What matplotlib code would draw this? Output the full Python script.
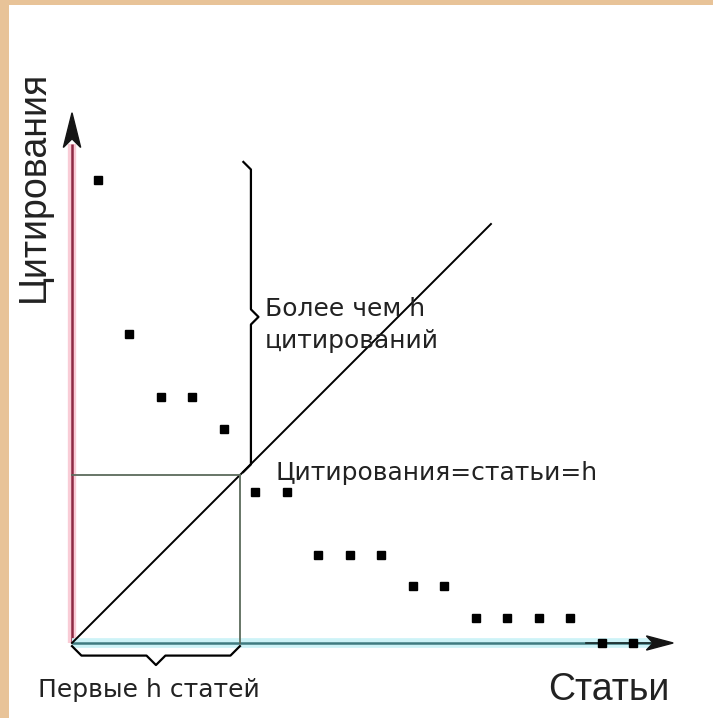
import matplotlib.pyplot as plt
import numpy as np

# статьи, отсортированные по числу цитирований
ranks = np.arange(1, 19)
citations = [14.7, 9.8, 7.8, 7.8, 6.8, 4.8, 4.8, 2.8, 2.8, 2.8,
             1.8, 1.8, 0.8, 0.8, 0.8, 0.8, 0.0, 0.0]
h_level = 5.33          # уровень h на диагонали
x0 = 0.175              # начало осей по x
y_top = 16.83           # конец оси цитирований
x_end = 19.26           # конец оси статей

fig = plt.figure(figsize=(7.13, 7.18), dpi=100, facecolor='#e8c398')
ax = fig.add_axes([0, 0, 1, 1])
ax.set_xlim(-2.111, 20.524)
ax.set_ylim(-2.381, 20.41)
ax.axis('off')

# белая подложка
ax.add_patch(plt.Rectangle((9 / 713, 0), 1, 1 - 5 / 718, transform=fig.transFigure,
                           facecolor='white', edgecolor='none', zorder=-10, clip_on=False))


def arrowhead(tip, direction, length, width):
    # наконечник с вогнутым основанием
    tip, d = np.array(tip), np.array(direction, dtype=float)
    n = np.array([-d[1], d[0]])
    back = tip - d * length
    pts = np.array([tip, back + n * width / 2, tip - d * length * 0.75, back - n * width / 2])
    ax.fill(pts[:, 0], pts[:, 1], color='#151515', zorder=6)


# оси
ax.plot([x0, x0], [0, y_top - 1], color='#f9ccd6', lw=6, solid_capstyle='butt')
ax.plot([x0, x0], [0, y_top - 1], color='#8e2a44', lw=1.8, solid_capstyle='butt')
ax.plot([x0, x_end - 0.6], [0, 0], color='#cdf3f7', lw=7, solid_capstyle='butt')
ax.plot([x0, x_end - 0.6], [0, 0], color='#3f7b80', lw=1.8, solid_capstyle='butt')
ax.plot([16.5, x_end - 0.6], [0, 0], color='#1a2a2a', lw=1.2)
arrowhead((x0, y_top), (0, 1), 1.1, 0.55)
arrowhead((x_end, 0), (1, 0), 0.85, 0.45)

# диагональ цитирования = статьи
diag = np.array([0, 13.3])
ax.plot(diag + x0, diag, color='black', lw=1.4)

# линии h
ax.plot([x0, x0 + h_level], [h_level, h_level], color='#5c6b5c', lw=1.3)
ax.plot([x0 + h_level, x0 + h_level], [0, h_level], color='#5c6b5c', lw=1.3)

# точки
ax.plot(ranks, citations, 's', color='black', ms=5.5, zorder=5)


def brace(p0, p1, d, normal):
    # ломаная фигурная скобка от p0 до p1, выпуклость в сторону normal
    p0, p1, n = np.array(p0), np.array(p1), np.array(normal)
    t = (p1 - p0) / np.linalg.norm(p1 - p0)
    m = (p0 + p1) / 2
    pts = [p0 - n * d, p0 + t * d, m - t * d, m + n * d, m + t * d, p1 - t * d, p1 - n * d]
    pts = np.array(pts)
    ax.plot(pts[:, 0], pts[:, 1], color='black', lw=1.6, solid_joinstyle='round')


brace((x0 + h_level + 0.35, h_level + 0.1), (x0 + h_level + 0.35, 15.27), 0.24, (1, 0))
brace((x0, -0.4), (x0 + h_level, -0.4), 0.3, (0, -1))

# подписи
ax.text(-1.05, 14.48, 'Цитирования', rotation=90, ha='center', va='center',
        fontsize=27, family='Liberation Sans', color='#222222')
ax.text(15.28, -1.49, 'Статьи', ha='left', va='center',
        fontsize=27, family='Liberation Sans', color='#222222')
ax.text(-0.9, -1.49, 'Первые h статей', ha='left', va='center',
        fontsize=18, family='DejaVu Sans', color='#222222')
ax.text(6.3, 10.98, 'Более чем h\nцитирований', ha='left', va='top',
        fontsize=18, family='DejaVu Sans', color='#222222', linespacing=1.4)
ax.text(6.62, 5.4, 'Цитирования=статьи=h', ha='left', va='center',
        fontsize=18, family='DejaVu Sans', color='#222222')

fig.savefig('out.png', dpi=100, facecolor=fig.get_facecolor())
